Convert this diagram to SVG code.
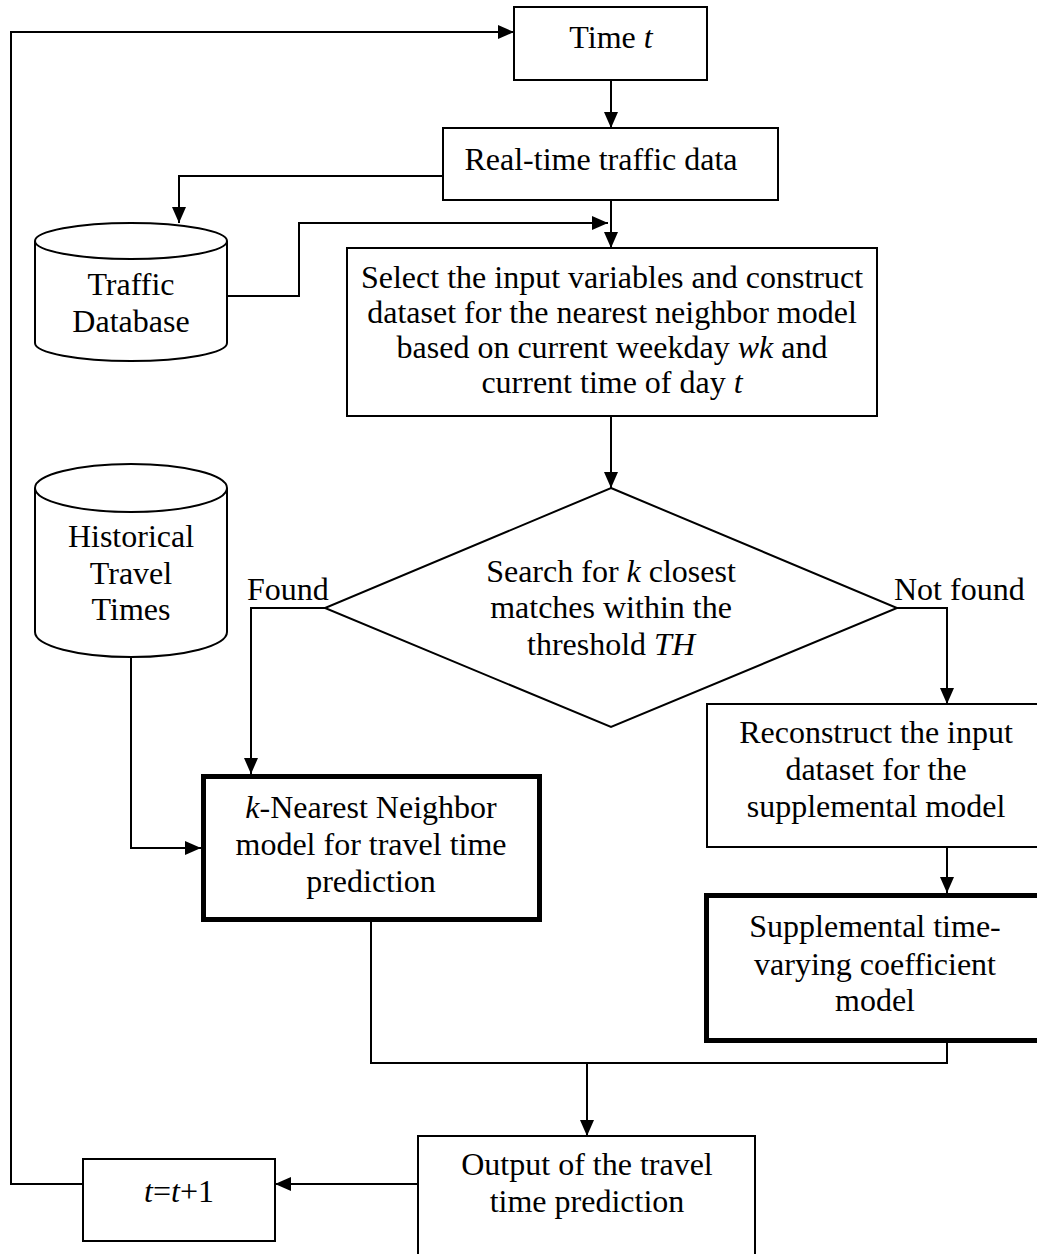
<svg xmlns="http://www.w3.org/2000/svg" width="1037" height="1254" viewBox="0 0 1037 1254">
  <style>
    .box { fill: #fff; stroke: #000; stroke-width: 2; }
    .thick { fill: #fff; stroke: #000; stroke-width: 5; }
    .db { fill: #fff; stroke: #000; stroke-width: 2; }
    .edge { fill: none; stroke: #000; stroke-width: 2; }
    text { font-family: "Liberation Serif", "Times New Roman", serif; font-size: 32px; fill: #000; }
    .c { text-anchor: middle; }
    .i { font-style: italic; }
  </style>
  <defs>
    <marker id="arrow" markerUnits="userSpaceOnUse" markerWidth="16" markerHeight="14" refX="16" refY="7" orient="auto">
      <path d="M0,0 L16,7 L0,14 z" fill="#000"/>
    </marker>
  </defs>

  <rect width="1037" height="1254" fill="#fff"/>

  <!-- connectors -->
  <g id="connectors" class="edge">
    <polyline points="83,1184 11,1184 11,32 514,32" marker-end="url(#arrow)"/>
    <line x1="611" y1="80" x2="611" y2="128" marker-end="url(#arrow)"/>
    <polyline points="443,176 179,176 179,223" marker-end="url(#arrow)"/>
    <line x1="611" y1="200" x2="611" y2="248" marker-end="url(#arrow)"/>
    <polyline points="227,296 299,296 299,223 608,223" marker-end="url(#arrow)"/>
    <line x1="611" y1="416" x2="611" y2="488" marker-end="url(#arrow)"/>
    <polyline points="325,608 251,608 251,774" marker-end="url(#arrow)"/>
    <polyline points="897,608 947,608 947,704" marker-end="url(#arrow)"/>
    <line x1="947" y1="847" x2="947" y2="893" marker-end="url(#arrow)"/>
    <polyline points="131,657 131,848 201,848" marker-end="url(#arrow)"/>
    <polyline points="371,922 371,1063 947,1063 947,1043"/>
    <line x1="587" y1="1063" x2="587" y2="1136" marker-end="url(#arrow)"/>
    <line x1="418" y1="1184" x2="275" y2="1184" marker-end="url(#arrow)"/>
  </g>

  <!-- branch labels -->
  <text x="247" y="600">Found</text>
  <text x="894" y="600">Not found</text>

  <g id="time">
    <rect class="box" x="514" y="7" width="193" height="73"/>
    <text class="c" x="611" y="48">Time <tspan class="i">t</tspan></text>
  </g>

  <g id="realtime">
    <rect class="box" x="443" y="128" width="335" height="72"/>
    <text class="c" x="601" y="170">Real-time traffic data</text>
  </g>

  <g id="traffic-db">
    <path class="db" d="M35,241 L35,343 A96,18 0 0 0 227,343 L227,241"/>
    <ellipse class="db" cx="131" cy="241" rx="96" ry="18"/>
    <text class="c" x="131" y="295">Traffic</text>
    <text class="c" x="131" y="332">Database</text>
  </g>

  <g id="select">
    <rect class="box" x="347" y="248" width="530" height="168"/>
    <text class="c" x="612" y="288">Select the input variables and construct</text>
    <text class="c" x="612" y="323">dataset for the nearest neighbor model</text>
    <text class="c" x="612" y="358">based on current weekday <tspan class="i">wk</tspan> and</text>
    <text class="c" x="612" y="393">current time of day <tspan class="i">t</tspan></text>
  </g>

  <g id="historical-db">
    <path class="db" d="M35,488 L35,632 A96,25 0 0 0 227,632 L227,488"/>
    <ellipse class="db" cx="131" cy="488" rx="96" ry="24"/>
    <text class="c" x="131" y="547">Historical</text>
    <text class="c" x="131" y="584">Travel</text>
    <text class="c" x="131" y="620">Times</text>
  </g>

  <g id="search">
    <polygon class="box" points="611,488 897,608 611,727 325,608"/>
    <text class="c" x="611" y="582">Search for <tspan class="i">k</tspan> closest</text>
    <text class="c" x="611" y="618">matches within the</text>
    <text class="c" x="611" y="655">threshold <tspan class="i">TH</tspan></text>
  </g>

  <g id="knn">
    <rect class="thick" x="203.5" y="776.5" width="336" height="143"/>
    <text class="c" x="371" y="818"><tspan class="i">k</tspan>-Nearest Neighbor</text>
    <text class="c" x="371" y="855">model for travel time</text>
    <text class="c" x="371" y="892">prediction</text>
  </g>

  <g id="reconstruct">
    <rect class="box" x="707" y="704" width="345" height="143"/>
    <text class="c" x="876" y="743">Reconstruct the input</text>
    <text class="c" x="876" y="780">dataset for the</text>
    <text class="c" x="876" y="817">supplemental model</text>
  </g>

  <g id="supplemental">
    <rect class="thick" x="706.5" y="895.5" width="345" height="145"/>
    <text class="c" x="875" y="937">Supplemental time-</text>
    <text class="c" x="875" y="975">varying coefficient</text>
    <text class="c" x="875" y="1011">model</text>
  </g>

  <g id="output">
    <rect class="box" x="418" y="1136" width="337" height="140"/>
    <text class="c" x="587" y="1175">Output of the travel</text>
    <text class="c" x="587" y="1212">time prediction</text>
  </g>

  <g id="increment">
    <rect class="box" x="83" y="1159" width="192" height="82"/>
    <text class="c" x="179" y="1202"><tspan class="i">t</tspan>=<tspan class="i">t</tspan>+1</text>
  </g>
</svg>
